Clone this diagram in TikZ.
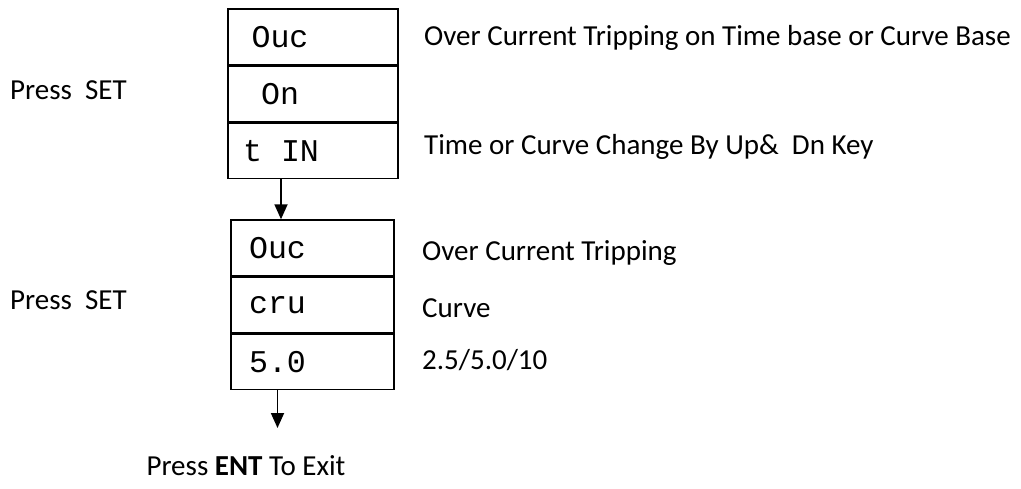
\documentclass[tikz,border=0pt]{standalone}
\usepackage{fontspec}
\setmainfont{Carlito}
\newfontfamily\segfont{Liberation Mono}
\usetikzlibrary{positioning,arrows.meta}

\begin{document}
\begin{tikzpicture}[x=0.02cm,y=-0.02cm,
  cell/.style={draw,line width=0.9pt,minimum width=3.4cm,minimum height=1.11cm,inner sep=0pt},
  seg/.style={font=\segfont\fontsize{18}{18}\selectfont},
  note/.style={anchor=west,font=\fontsize{16.5}{19}\selectfont},
  flow/.style={line width=1pt,-{Triangle[length=0.3cm,width=0.26cm]}}]
\useasboundingbox (0,0) rectangle (1021,488);

% first SET
\node (A-1) at (313,36.7) [cell]{};
\node (A-2) [cell, below=0pt of A-1]{};
\node (A-3) [cell, below=0pt of A-2]{};

\node (A-1t) at ([xshift=-0.66cm]A-1.center) [seg]{Ouc};
\node (A-2t) at ([xshift=-0.66cm]A-2.center) [seg]{On};
\node (A-3t) at ([xshift=-0.64cm]A-3.center) [seg]{t IN};

\node (set-A) at (4,90) [note]{Press\ \ SET};
\node (note-A1) at (418,38) [note]{Over Current Tripping on Time base or Curve Base};
\node (note-A3) at (418,147) [note]{Time or Curve Change By Up\&\ \ Dn Key};

% second SET
\node (B-1) at (312.5,247.8) [cell, minimum width=3.26cm]{};
\node (B-2) [cell, minimum width=3.26cm, below=0pt of B-1]{};
\node (B-3) [cell, minimum width=3.26cm, below=0pt of B-2]{};

\node (B-1t) at ([xshift=-0.7cm]B-1.center) [seg]{Ouc};
\node (B-2t) at ([xshift=-0.7cm]B-2.center) [seg]{cru};
\node (B-3t) at ([xshift=-0.7cm]B-3.center) [seg]{5.0};

\node (set-B) at (4,300) [note]{Press\ \ SET};
\node (note-B1) at (416,253) [note]{Over Current Tripping};
\node (note-B2) at (416,308) [note]{Curve};
\node (note-B3) at (416,360) [note]{2.5/5.0/10};

\draw [flow] (A-3.south -| A-3t) -- (B-1.north -| A-3t);

\coordinate (exit) at (277,428);
\draw [flow] (B-3.south -| B-3t) -- (B-3t |- exit);
\node (ent) at (246,466) [font=\fontsize{16.5}{19}\selectfont]{Press \textbf{ENT} To Exit};

\end{tikzpicture}
\end{document}
